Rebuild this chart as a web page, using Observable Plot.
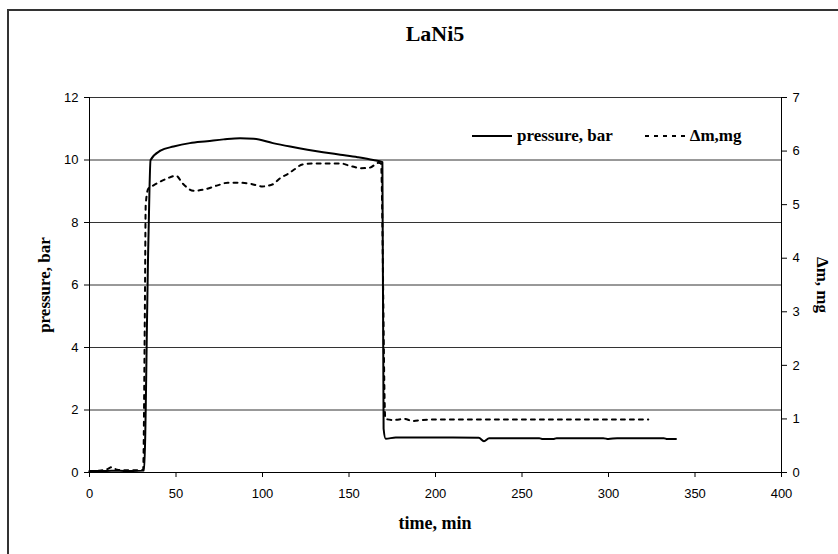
<!DOCTYPE html>
<html>
<head>
<meta charset="utf-8">
<script src="https://cdn.jsdelivr.net/npm/d3@7"></script>
<script src="https://cdn.jsdelivr.net/npm/@observablehq/plot@0.6"></script>
<style>
  html, body { margin: 0; padding: 0; background: #fff; overflow: hidden; }
  #wrap { position: relative; width: 838px; height: 554px; overflow: hidden; }
  #border { position: absolute; left: 7px; top: 9px; width: 900px; height: 600px; border: 2px solid #333; box-sizing: border-box; }
  .serif { font-family: "Liberation Serif", "Times New Roman", serif; font-weight: bold; color: #000; position: absolute; white-space: nowrap; }
  #title { left: 0; width: 870px; top: 21px; text-align: center; font-size: 22px; }
  #xlab { left: 0; width: 870px; top: 513px; text-align: center; font-size: 18px; }
  #ylab { left: 45px; top: 285px; font-size: 17px; transform: translate(-50%, -50%) rotate(-90deg); }
  #y2lab { left: 822px; top: 285px; font-size: 17px; transform: translate(-50%, -50%) rotate(90deg); }
  #legend { position: absolute; left: 472px; top: 126px; font-family: "Liberation Serif", "Times New Roman", serif; font-weight: bold; font-size: 17px; display: flex; align-items: center; }
  #legend svg { margin: 0 5px 0 0; }
  #chart { position: absolute; left: 0; top: 0; }
</style>
</head>
<body>
<div id="wrap">
  <div id="border"></div>
  <div id="chart"></div>
  <div id="title" class="serif">LaNi5</div>
  <div id="xlab" class="serif">time, min</div>
  <div id="ylab" class="serif">pressure, bar</div>
  <div id="y2lab" class="serif">Δm, mg</div>
  <div id="legend">
    <svg width="40" height="10"><line x1="0" y1="5" x2="40" y2="5" stroke="black" stroke-width="2"/></svg>
    <span style="margin-right:32px">pressure, bar</span>
    <svg width="40" height="10"><line x1="0" y1="5" x2="40" y2="5" stroke="black" stroke-width="2" stroke-dasharray="4,5"/></svg>
    <span>Δm,mg</span>
  </div>
</div>
<script>
// pressure, bar vs time, min
const timeP = [0, 5, 10, 15, 20, 25, 31.5, 34, 35.3, 41, 48.6, 58, 68, 77.5, 87, 95, 106, 116, 126, 135, 145, 155, 164, 169.3, 170, 171.2, 177, 190, 210, 225, 228, 231, 245, 260, 262, 268, 270, 297, 300, 305, 332, 334, 339];
const pressure = [0.05, 0.05, 0.05, 0.06, 0.05, 0.05, 0.06, 7.3, 10.0, 10.3, 10.43, 10.54, 10.6, 10.66, 10.7, 10.68, 10.54, 10.43, 10.33, 10.25, 10.17, 10.09, 10.0, 9.93, 1.4, 1.08, 1.12, 1.12, 1.12, 1.11, 1.0, 1.1, 1.1, 1.1, 1.07, 1.07, 1.1, 1.1, 1.07, 1.1, 1.1, 1.07, 1.07];

// Δm, mg vs time, min
const timeM = [0, 5, 10, 13, 16, 20, 25, 31, 32, 32.5, 34, 37, 45, 50, 54, 60, 66, 74, 80, 86, 93, 100, 106, 110, 115, 119, 123, 130, 145, 150, 157, 162, 167, 168.5, 171, 176, 182, 187, 192, 200, 230, 260, 290, 323];
const dm = [0.02, 0.03, 0.06, 0.1, 0.05, 0.04, 0.04, 0.05, 3.0, 5.0, 5.3, 5.36, 5.49, 5.54, 5.39, 5.26, 5.28, 5.36, 5.41, 5.41, 5.39, 5.34, 5.38, 5.49, 5.58, 5.67, 5.75, 5.77, 5.77, 5.73, 5.68, 5.69, 5.78, 5.77, 1.0, 0.98, 1.0, 0.96, 0.98, 0.99, 0.99, 0.99, 0.99, 0.99];

const xTicks = [0, 50, 100, 150, 200, 250, 300, 350, 400];
const yTicks = [0, 2, 4, 6, 8, 10, 12];
const y2Ticks = [0, 1, 2, 3, 4, 5, 6, 7];

const yMax = 12, y2Max = 7;
const k = yMax / y2Max;

const pData = timeP.map((t, i) => ({t, v: pressure[i]}));
const mData = timeM.map((t, i) => ({t, v: dm[i] * k}));

const chart = Plot.plot({
  width: 838,
  height: 554,
  marginLeft: 89,
  marginRight: 57,
  marginTop: 97,
  marginBottom: 82,
  style: {fontFamily: "'Liberation Sans', Arial, sans-serif", fontSize: "13px", color: "#000", background: "transparent"},
  x: {domain: [0, 400]},
  y: {domain: [0, yMax]},
  marks: [
    Plot.ruleY(yTicks.filter(d => d > 0), {stroke: "#333", strokeWidth: 1}),
    Plot.axisX({ticks: xTicks, tickSize: 5, tickPadding: 11, label: null}),
    Plot.axisY({anchor: "left", ticks: yTicks, tickSize: 5, tickPadding: 6, label: null}),
    Plot.axisY({anchor: "right", ticks: y2Ticks.map(m => m * k), tickFormat: v => String(Math.round(v / k)), tickSize: 5, tickPadding: 6, label: null}),
    Plot.ruleX([0], {stroke: "#000"}),
    Plot.ruleX([400], {stroke: "#000"}),
    Plot.ruleY([0], {stroke: "#000"}),
    Plot.line(mData, {x: "t", y: "v", stroke: "#000", strokeWidth: 2, strokeDasharray: "4,5", curve: "monotone-x"}),
    Plot.line(pData, {x: "t", y: "v", stroke: "#000", strokeWidth: 2, curve: "monotone-x"})
  ]
});
document.getElementById("chart").appendChild(chart);
</script>
</body>
</html>
